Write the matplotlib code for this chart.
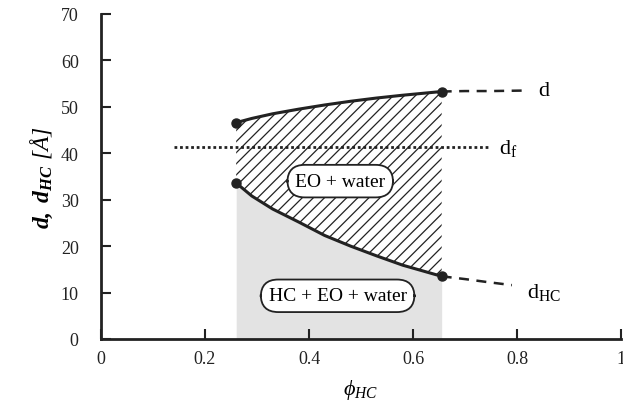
import matplotlib
matplotlib.use('Agg')
import matplotlib.pyplot as plt
import numpy as np

plt.rcParams['font.family'] = ['Liberation Serif', 'DejaVu Serif']
plt.rcParams['mathtext.fontset'] = 'custom'
plt.rcParams['mathtext.rm'] = 'Liberation Serif'
plt.rcParams['mathtext.it'] = 'Liberation Serif:italic'
plt.rcParams['mathtext.bf'] = 'Liberation Serif:bold:italic'
plt.rcParams['hatch.linewidth'] = 0.9

# solid curves (measured region)
phi = [0.26, 0.29, 0.33, 0.38, 0.43, 0.48, 0.53, 0.58, 0.655]
d = [46.6, 47.5, 48.5, 49.5, 50.4, 51.2, 51.9, 52.5, 53.3]
d_hc = [33.6, 30.8, 28.0, 25.2, 22.3, 20.0, 17.9, 15.9, 13.5]

# dashed extrapolations
phi_d_ext = [0.655, 0.70, 0.75, 0.81]
d_ext = [53.3, 53.4, 53.4, 53.5]
phi_hc_ext = [0.655, 0.70, 0.74, 0.79]
d_hc_ext = [13.5, 12.9, 12.3, 11.6]

# free thickness level
phi_f = [0.14, 0.745]
d_f = [41.3, 41.3]

x_ticks = [0, 0.2, 0.4, 0.6, 0.8, 1]
x_labels = ['0', '0.2', '0.4', '0.6', '0.8', '1']
y_ticks = [0, 10, 20, 30, 40, 50, 60, 70]

fig = plt.figure(figsize=(6.23, 4.06), dpi=100)
ax = fig.add_axes([0.162, 0.1626, 0.835, 0.8005])

phi_a = np.array(phi)
ax.fill_between(phi_a, 0, d_hc, color='#e3e3e3', lw=0, zorder=1)
ax.fill_between(phi_a, d_hc, d, facecolor='none', edgecolor='#222222',
                hatch='///', lw=0, zorder=1)

ax.plot(phi, d, color='#222222', lw=2.2, zorder=3)
ax.plot(phi, d_hc, color='#222222', lw=2.2, zorder=3)
ax.plot(phi_d_ext, d_ext, color='#222222', lw=1.8, ls=(0, (4, 3)), zorder=3)
ax.plot(phi_hc_ext, d_hc_ext, color='#222222', lw=1.8, ls=(0, (4, 3)), zorder=3)
ax.plot(phi_f, d_f, color='#222222', lw=2, ls=(0, (1, 1)), zorder=3)
ax.plot([phi[0], phi[-1], phi[0], phi[-1]], [d[0], d[-1], d_hc[0], d_hc[-1]],
        'o', color='#222222', ms=6.5, zorder=4)

box = dict(boxstyle='round,pad=0.4,rounding_size=0.9', fc='white',
           ec='#222222', lw=1.3)
ax.text(0.46, 34, 'EO + water', ha='center', va='center', fontsize=14,
        bbox=box, zorder=5)
ax.text(0.455, 9.3, 'HC + EO + water', ha='center', va='center', fontsize=14,
        bbox=box, zorder=5)

ax.text(0.84, 53.5, 'd', fontsize=16, va='center')
ax.text(0.765, 41.3, r'd$_{\mathrm{f}}$', fontsize=16, va='center')
ax.text(0.82, 10.3, r'd$_{\mathrm{HC}}$', fontsize=16, va='center')

ax.set_xlim(0, 1)
ax.set_ylim(0, 70)
ax.set_xticks(x_ticks)
ax.set_xticklabels(x_labels)
ax.set_yticks(y_ticks)
ax.tick_params(direction='in', length=7, width=1.5, labelsize=13,
               colors='#222222')
ax.tick_params(axis='y', pad=16)
ax.tick_params(axis='x', pad=8)
for s in ['top', 'right']:
    ax.spines[s].set_visible(False)
for s in ['left', 'bottom']:
    ax.spines[s].set_linewidth(2)
    ax.spines[s].set_color('#222222')

ax.set_ylabel(r'$\mathbf{d,\ d_{HC}}$ [Å]', fontsize=17, fontstyle='italic',
              labelpad=4)
ax.set_xlabel(r'$\phi_{HC}$', fontsize=16, labelpad=7)

fig.savefig('out.png', dpi=100)
